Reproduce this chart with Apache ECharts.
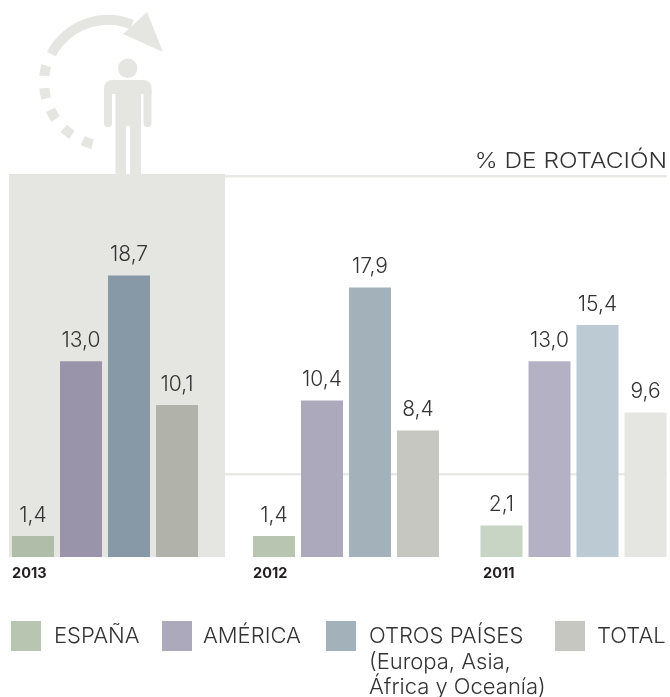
<!DOCTYPE html>
<html><head><meta charset="utf-8">
<style>html,body{margin:0;padding:0;background:#fff}#c{width:670px;height:697px}</style>
<script src="https://cdn.jsdelivr.net/npm/echarts@6/dist/echarts.min.js"></script>
</head><body><div id="c"></div>
<script>
const years = ['2013', '2012', '2011'];
const regions = ['ESPAÑA', 'AMÉRICA', 'OTROS PAÍSES', 'TOTAL'];
const regionNote = '(Europa, Asia,\nÁfrica y Oceanía)';
const values2013 = [1.4, 13.0, 18.7, 10.1];
const values2012 = [1.4, 10.4, 17.9, 8.4];
const values2011 = [2.1, 13.0, 15.4, 9.6];
const colors2013 = ['#B0BDA9', '#9A94AB', '#8799A6', '#B1B2A9'];
const colors2012 = ['#B8C5B0', '#ADA9BC', '#A3B1BA', '#C6C7C1'];
const colors2011 = ['#C8D5C5', '#B5B1C4', '#BCCAD3', '#E5E6E2'];
const unitTitle = '% DE ROTACIÓN';

const FONT = 'Inter, "Open Sans", sans-serif';
const INK = '#333333', PALE = '#E5E6E2';
const yearValues = [values2013, values2012, values2011];
const yearColors = [colors2013, colors2012, colors2011];
const grids = [
  {left: 12, width: 186, top: 176, height: 381},
  {left: 253, width: 186, top: 176, height: 381},
  {left: 480, width: 187, top: 176, height: 381}
];
const yearGap = [0, 0, -3];
const legendLeft = [11, 162, 326, 555];
const legendPad = [8, 6, 8, 7];

const series = [];
years.forEach((y, yi) => regions.forEach((r, ri) => series.push({
  type: 'bar', name: r, xAxisIndex: yi, yAxisIndex: yi,
  data: [yearValues[yi][ri]],
  barWidth: 42, barGap: '14.29%',
  itemStyle: {color: yearColors[yi][ri]},
  silent: true,
  label: {show: true, position: 'top', distance: 10, fontFamily: FONT, fontSize: 21, fontWeight: 300, color: INK,
    formatter: p => p.value.toFixed(1).replace('.', ',')}
})));

const paleRect = (x, y, width, height, r) => ({type: 'rect', z: 0, shape: {x, y, width, height, r: r || 0}, style: {fill: PALE}});
const graphic = [
  paleRect(9, 174, 216, 383),
  {type: 'rect', z: 0, shape: {x: 225, y: 175, width: 442, height: 2.5}, style: {fill: '#E9EAE6'}},
  {type: 'rect', z: 0, shape: {x: 225, y: 473, width: 442, height: 2.5}, style: {fill: '#E9EAE6'}},
  {type: 'circle', z: 0, shape: {cx: 127.7, cy: 68.3, r: 9.7}, style: {fill: PALE}},
  paleRect(104, 80, 47.5, 14, [8, 8, 0, 0]),
  paleRect(104, 90, 8, 37, [0, 0, 4, 4]),
  paleRect(143.5, 90, 8, 37, [0, 0, 4, 4]),
  paleRect(115.5, 90, 25.5, 36),
  paleRect(115.5, 126, 10.5, 48),
  paleRect(130, 126, 11, 48),
  {type: 'arc', z: 0, shape: {cx: 108, cy: 84, r: 64, startAngle: 207.8 * Math.PI / 180, endAngle: 292 * Math.PI / 180},
    style: {fill: null, stroke: PALE, lineWidth: 10}},
  {type: 'arc', z: 0, shape: {cx: 108, cy: 82, r: 64, startAngle: 104 * Math.PI / 180, endAngle: 195 * Math.PI / 180},
    style: {fill: null, stroke: PALE, lineWidth: 10, lineDash: [10.5, 12.2]}},
  {type: 'polygon', z: 0, shape: {points: [[147, 12], [163, 52], [123, 34]]}, style: {fill: PALE}},
  {type: 'text', z: 1, x: 667, y: 161, scaleX: 1.11, style: {text: unitTitle, font: '300 22px ' + FONT, fill: INK, textAlign: 'right', textVerticalAlign: 'middle'}},
  {type: 'text', z: 1, x: 369, y: 650, style: {text: regionNote, font: '300 22px ' + FONT, fill: INK, lineHeight: 25, textAlign: 'left', textVerticalAlign: 'top'}}
];

echarts.init(document.getElementById('c'), null, {renderer: 'canvas'}).setOption({
  animation: false,
  backgroundColor: '#fff',
  grid: grids,
  xAxis: years.map((y, i) => ({
    type: 'category', gridIndex: i, data: [y],
    axisLine: {show: false}, axisTick: {show: false}, axisLabel: {show: false},
    name: y, nameLocation: 'start', nameGap: yearGap[i], nameMoveOverlap: false,
    nameTextStyle: {align: 'left', verticalAlign: 'top', padding: [9, 0, 0, 0], fontFamily: FONT, fontWeight: 700, fontSize: 14.5, color: '#231F20'}
  })),
  yAxis: years.map((y, i) => ({type: 'value', gridIndex: i, min: 0, max: 25.3, show: false})),
  legend: regions.map((r, i) => ({
    data: [{name: r, itemStyle: {color: colors2012[i]}}], left: legendLeft[i], top: 621, icon: 'rect',
    itemWidth: 30, itemHeight: 30, selectedMode: false, padding: 0,
    textStyle: {fontFamily: FONT, fontSize: 22, fontWeight: 300, color: INK, padding: [0, 0, 0, legendPad[i]]}
  })),
  graphic,
  series
});
</script></body></html>
